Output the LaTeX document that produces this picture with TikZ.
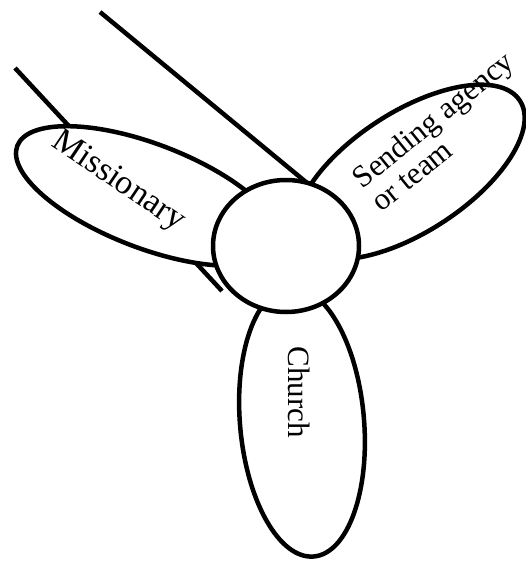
\documentclass[tikz,border=0pt]{standalone}
\usepackage{fontspec}
\setmainfont{Liberation Serif}
\usetikzlibrary{shapes.geometric}
\begin{document}
\begin{tikzpicture}[x=1pt,y=1pt,
  outline/.style={draw=black,line width=4.5pt},
  blade/.style={outline,ellipse,fill=white,inner sep=0pt},
  wire/.style={draw=black,line width=4.5pt},
  lbl/.style={font=\fontsize{30}{30}\selectfont,inner sep=0pt}]
\useasboundingbox (0,0) rectangle (526,-562);
% lines behind everything
\coordinate (w1s) at (15,-68);
\coordinate (w1e) at (222,-291);
\coordinate (w2s) at (100,-12);
\coordinate (w2e) at (318,-192);
\draw[wire] (w1s) -- (w1e);
\draw[wire] (w2s) -- (w2e);
% blades
\node[blade,minimum width=280pt,minimum height=104pt,rotate=-21] (mis) at (148,-196) {};
\node[blade,minimum width=262pt,minimum height=120pt,rotate=33] (send) at (410,-172) {};
\node[blade,minimum width=270pt,minimum height=124pt,rotate=-85] (church) at (302,-422) {};
% hub
\node[blade,minimum width=146pt,minimum height=132pt] (hub) at (286,-246) {};
% labels
\node[lbl,rotate=-34,font=\fontsize{34}{34}\selectfont] (tmis) at (118,-182) {Missionary};
\node[lbl,rotate=-90,font=\fontsize{31}{31}\selectfont] (tchurch) at (299,-392) {Church};
\node[lbl,rotate=39,align=left,font=\fontsize{31}{30}\selectfont] (tsend) at (442,-131) {Sending agency\\or team};
\end{tikzpicture}
\end{document}
